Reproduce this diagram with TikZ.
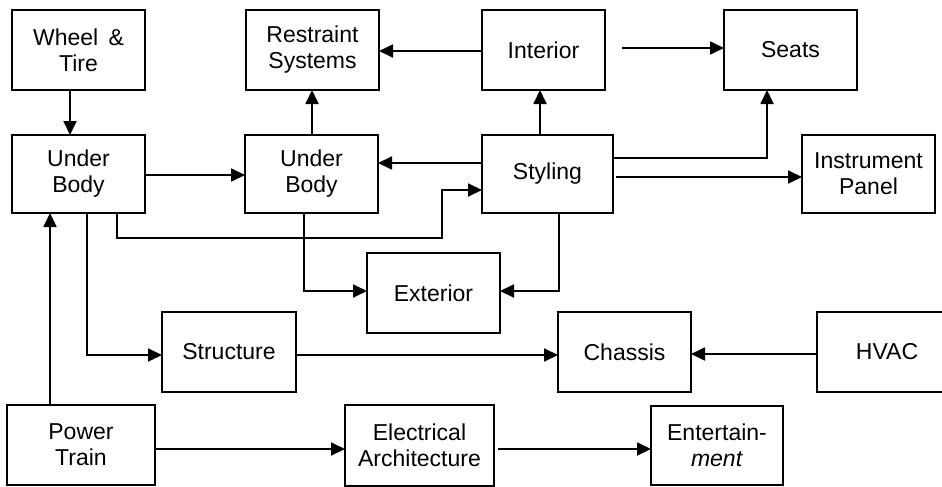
\documentclass[tikz,border=0pt]{standalone}
\usepackage{fontspec}
\setmainfont{Liberation Sans}
\usetikzlibrary{arrows.meta}
\begin{document}
\begin{tikzpicture}[x=1pt,y=-1pt,
  blk/.style={draw, line width=1.8pt, inner sep=0pt, outer sep=0pt, align=center,
    minimum width=133pt, minimum height=80pt,
    font=\fontsize{23}{26}\selectfont},
  arr/.style={line width=1.8pt, -{Triangle[length=14pt,width=13pt]}}]
\clip (0,0) rectangle (942,487);
\fill[white] (0,0) rectangle (942,487);

% blocks
\node[blk] (wheel) at (78.5,50) {Wheel \,\&\\Tire};
\node[blk] (restr) at (312.5,50) {Restraint\\Systems};
\node[blk, minimum width=123pt] (interior) at (543.5,50) {Interior};
\node[blk] (seats) at (790.5,50) {Seats};
\node[blk, minimum height=78pt] (ub1) at (78.5,174) {Under\\Body};
\node[blk, minimum height=78pt] (ub2) at (311.5,174) {Under\\Body};
\node[blk, minimum width=131pt, minimum height=78pt] (styling) at (547.5,174) {Styling};
\node[blk, minimum height=78pt] (instr) at (868.5,174) {Instrument\\Panel};
\node[blk] (exterior) at (433.5,293) {Exterior};
\node[blk, minimum width=134pt] (structure) at (229,352) {Structure};
\node[blk] (chassis) at (624.5,352) {Chassis};
\node[blk, minimum width=140pt] (hvac) at (887,352) {HVAC};
\node[blk, minimum width=148pt] (power) at (81,445) {Power\\Train};
\node[blk, minimum width=149pt, minimum height=81pt] (elec) at (419.5,445.5) {Electrical\\Architecture};
\node[blk, minimum width=132pt, minimum height=79pt] (ent) at (717,445.5) {Entertain-\\\textit{ment}};

% connectors
\draw[arr] (70,0 |- wheel.south) -- (70,0 |- ub1.north);
\draw[arr] (0,175 -| ub1.east) -- (0,175 -| ub2.west);
\draw[arr] (312,0 |- ub2.north) -- (312,0 |- restr.south);
\draw[arr] (0,51 -| interior.west) -- (0,51 -| restr.east);
\draw[arr, shorten <=17pt] (0,48 -| interior.east) -- (0,48 -| seats.west);
\draw[arr] (0,163 -| styling.west) -- (0,163 -| ub2.east);
\draw[arr] (117,0 |- ub1.south) -- (117,238) -- (442,238) -- (442,190) -- (0,190 -| styling.west);
\draw[arr] (540,0 |- styling.north) -- (540,0 |- interior.south);
\draw[arr] (0,158 -| styling.east) -- (767,158) -- (767,0 |- seats.south);
\draw[arr, shorten <=3pt] (0,177 -| styling.east) -- (0,177 -| instr.west);
\draw[arr] (304,0 |- ub2.south) -- (304,291) -- (0,291 -| exterior.west);
\draw[arr] (559,0 |- styling.south) -- (559,291) -- (0,291 -| exterior.east);
\draw[arr] (87,0 |- ub1.south) -- (87,355) -- (0,355 -| structure.west);
\draw[arr] (0,355 -| structure.east) -- (0,355 -| chassis.west);
\draw[arr] (0,354 -| hvac.west) -- (0,354 -| chassis.east);
\draw[arr] (50,0 |- power.north) -- (50,0 |- ub1.south);
\draw[arr] (0,449 -| power.east) -- (0,449 -| elec.west);
\draw[arr, shorten <=4pt] (0,449 -| elec.east) -- (0,449 -| ent.west);
\end{tikzpicture}
\end{document}
